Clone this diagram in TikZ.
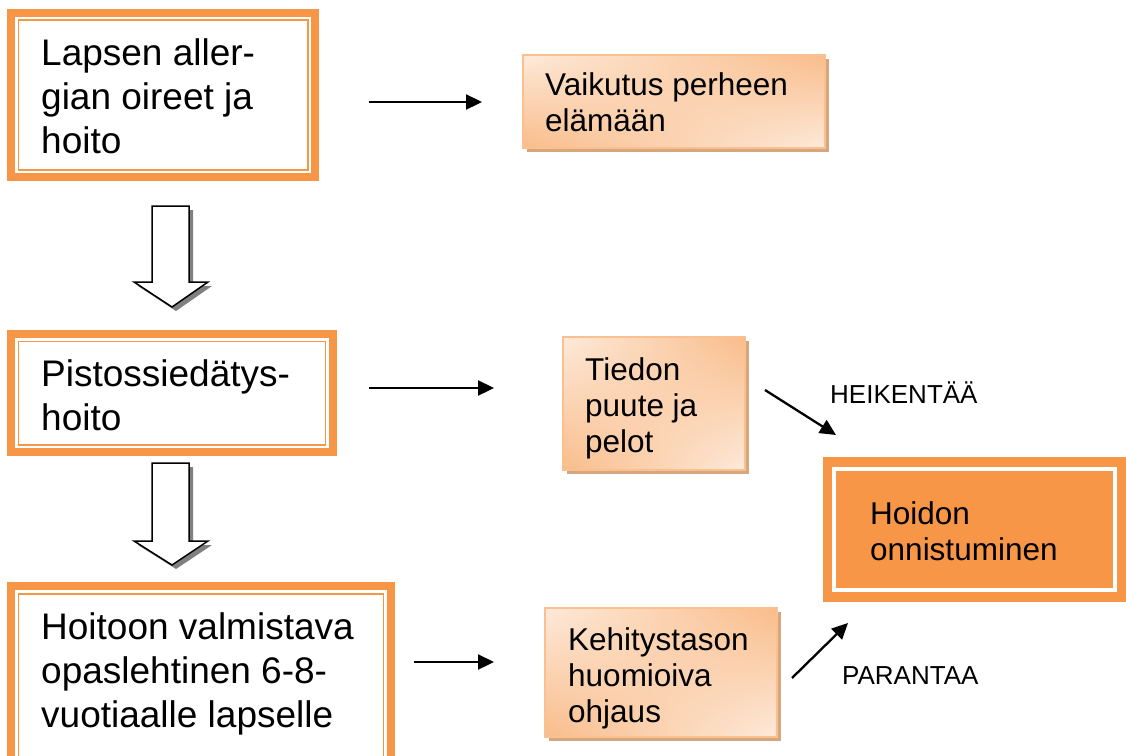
\documentclass[tikz,border=0pt]{standalone}
\usepackage{fontspec}
\setmainfont{Liberation Sans}
\usetikzlibrary{arrows.meta,shadows,shadings,calc}
\definecolor{orng}{HTML}{F79646}
\definecolor{gdark}{HTML}{F9BC8A}
\definecolor{glight}{HTML}{FDEADA}
\definecolor{gborder}{HTML}{FAC090}
\definecolor{shad}{RGB}{214,166,124}
\definecolor{ashad}{RGB}{128,128,128}
\tikzset{
  bigtxt/.style={font=\fontsize{37}{44}\selectfont, align=left, inner sep=0pt, anchor=base west},
  midtxt/.style={font=\fontsize{31.5}{36}\selectfont, align=left, inner sep=0pt, anchor=base west},
  labtxt/.style={font=\fontsize{26}{30}\selectfont, inner sep=0pt, anchor=base west},
  dbox/.style={draw=orng, line width=7.7pt, rectangle, inner sep=0pt, outer sep=0pt},
  innerline/.style={draw=orng, line width=1.6pt},
  gbox/.style={rectangle, inner sep=0pt, outer sep=0pt, draw=gborder, line width=1.5pt,
    upper left=glight, upper right=gdark, lower left=gdark, lower right=glight,
    drop shadow={shadow xshift=4pt, shadow yshift=-4pt, fill=shad, opacity=1}},
  conn/.style={line width=2.3pt, -{Triangle[length=16pt,width=15pt]}},
  hollow/.style={draw=black, line width=1.5pt, fill=white, line join=miter},
}
\begin{document}
\begin{tikzpicture}[x=1pt,y=-1pt]
\useasboundingbox[fill=white] (0,0) rectangle (1126,755);

% ---- double-border boxes ----
\node[dbox, minimum width=304pt, minimum height=164.3pt] (b1) at (163.15,95) {};
\draw[innerline] ([shift={(7.4,7.4)}]b1.north west) rectangle ([shift={(-7.4,-7.4)}]b1.south east);

\node[dbox, minimum width=322pt, minimum height=118.3pt] (b2) at (172,393) {};
\draw[innerline] ([shift={(7.4,7.8)}]b2.north west) rectangle ([shift={(-7.4,-7.4)}]b2.south east);

\node[dbox, minimum width=380pt, minimum height=185pt] (b3) at (201,678.5) {};
\draw[innerline] ([shift={(7.4,7.8)}]b3.north west) rectangle ([shift={(-7.4,-7.4)}]b3.south east);

% ---- result box ----
\node[rectangle, fill=orng, inner sep=0pt, outer sep=0pt, minimum width=303pt, minimum height=145pt] (hb) at (974.5,529.5) {};
\draw[white, line width=4pt] ([shift={(11,12)}]hb.north west) rectangle ([shift={(-11,-12)}]hb.south east);

% ---- gradient boxes ----
\node[gbox, minimum width=302pt, minimum height=93pt] (vb) at (674,101.5) {};
\node[gbox, minimum width=182pt, minimum height=133pt] (tb) at (654,403.5) {};
\node[gbox, minimum width=232pt, minimum height=129pt] (kb) at (661,672.5) {};

% ---- texts (anchor = baseline of last line) ----
\node[bigtxt] (t1) at (41,153) {Lapsen aller-\\gian oireet ja\\hoito};
\node[bigtxt] (t2) at (41,430) {Pistossiedätys-\\hoito};
\node[bigtxt] (t3) at (41,727) {Hoitoon valmistava\\opaslehtinen 6-8-\\vuotiaalle lapselle};
\node[midtxt] (tv) at (545,131.7) {Vaikutus perheen\\elämään};
\node[midtxt] (tt) at (585,452) {Tiedon\\puute ja\\pelot};
\node[midtxt] (tk) at (568,722) {Kehitystason\\huomioiva\\ohjaus};
\node[midtxt] (th) at (870,560) {Hoidon\\onnistuminen};
\node[labtxt] (lh) at (830,403) {HEIKENTÄÄ};
\node[labtxt] (lp) at (842,684) {PARANTAA};

% ---- connector end points ----
\coordinate (a1s) at (369,102);  \coordinate (a1e) at (482,102);
\coordinate (a2s) at (369,388);  \coordinate (a2e) at (494,388);
\coordinate (a3s) at (414,662);  \coordinate (a3e) at (494,662);
\coordinate (a4s) at (765,390);  \coordinate (a4e) at (836,435);
\coordinate (a5s) at (792,678);  \coordinate (a5e) at (848,623);
\draw[conn] (a1s) -- (a1e);
\draw[conn] (a2s) -- (a2e);
\draw[conn] (a3s) -- (a3e);
\draw[conn] (a4s) -- (a4e);
\draw[conn] (a5s) -- (a5e);

% ---- hollow down arrows ----
\fill[ashad] (156,210) -- (193,210) -- (193,286) -- (212,286) -- (176,311) -- (138,286) -- (156,286) -- cycle;
\draw[hollow] (152,206) -- (189,206) -- (189,282) -- (208,282) -- (172,307) -- (134,282) -- (152,282) -- cycle;

\fill[ashad] (156,467) -- (193,467) -- (193,545) -- (212,545) -- (176,569) -- (138,545) -- (156,545) -- cycle;
\draw[hollow] (152,463) -- (189,463) -- (189,541) -- (208,541) -- (172,565) -- (134,541) -- (152,541) -- cycle;
\end{tikzpicture}
\end{document}
